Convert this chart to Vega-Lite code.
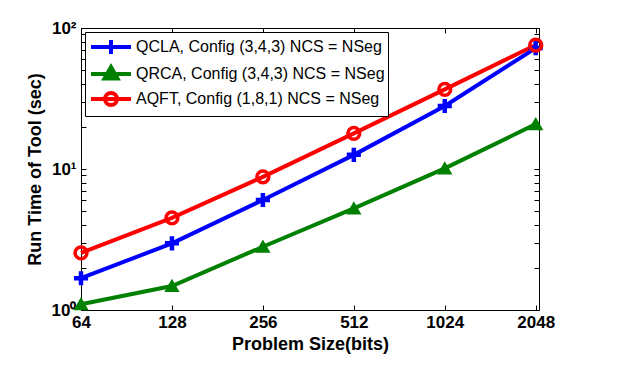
{
  "$schema": "https://vega.github.io/schema/vega-lite/v6.json",
  "width": 458,
  "height": 282,
  "autosize": {"type": "none"},
  "padding": {"left": 81, "top": 28, "right": 81, "bottom": 60},
  "background": "white",
  "data": {
    "values": [
      {"size": 64, "time": 1.68, "series": "QCLA, Config (3,4,3) NCS = NSeg"},
      {"size": 128, "time": 2.97, "series": "QCLA, Config (3,4,3) NCS = NSeg"},
      {"size": 256, "time": 6.03, "series": "QCLA, Config (3,4,3) NCS = NSeg"},
      {"size": 512, "time": 12.6, "series": "QCLA, Config (3,4,3) NCS = NSeg"},
      {"size": 1024, "time": 28.0, "series": "QCLA, Config (3,4,3) NCS = NSeg"},
      {"size": 2048, "time": 72.0, "series": "QCLA, Config (3,4,3) NCS = NSeg"},
      {"size": 64, "time": 1.1, "series": "QRCA, Config (3,4,3) NCS = NSeg"},
      {"size": 128, "time": 1.48, "series": "QRCA, Config (3,4,3) NCS = NSeg"},
      {"size": 256, "time": 2.81, "series": "QRCA, Config (3,4,3) NCS = NSeg"},
      {"size": 512, "time": 5.26, "series": "QRCA, Config (3,4,3) NCS = NSeg"},
      {"size": 1024, "time": 10.1, "series": "QRCA, Config (3,4,3) NCS = NSeg"},
      {"size": 2048, "time": 20.8, "series": "QRCA, Config (3,4,3) NCS = NSeg"},
      {"size": 64, "time": 2.54, "series": "AQFT, Config (1,8,1) NCS = NSeg"},
      {"size": 128, "time": 4.5, "series": "AQFT, Config (1,8,1) NCS = NSeg"},
      {"size": 256, "time": 8.8, "series": "AQFT, Config (1,8,1) NCS = NSeg"},
      {"size": 512, "time": 17.9, "series": "AQFT, Config (1,8,1) NCS = NSeg"},
      {"size": 1024, "time": 36.7, "series": "AQFT, Config (1,8,1) NCS = NSeg"},
      {"size": 2048, "time": 75.7, "series": "AQFT, Config (1,8,1) NCS = NSeg"}
    ]
  },
  "layer": [
    {
      "mark": {"type": "line", "strokeWidth": 4, "clip": false},
      "encoding": {
        "x": {
          "field": "size", "type": "quantitative",
          "scale": {"type": "log", "base": 2, "domain": [64, 2100], "nice": false, "zero": false},
          "axis": {
            "orient": "bottom",
            "values": [64, 128, 256, 512, 1024, 2048],
            "format": "d",
            "title": "Problem Size(bits)",
            "tickSize": -5,
            "labelPadding": 9,
            "titlePadding": 5,
            "labelOverlap": false,
            "labelFlush": false
          }
        },
        "y": {
          "field": "time", "type": "quantitative",
          "scale": {"type": "log", "domain": [1, 100], "nice": false, "zero": false},
          "axis": {
            "orient": "left",
            "values": [1, 2, 3, 4, 5, 6, 7, 8, 9, 10, 20, 30, 40, 50, 60, 70, 80, 90, 100],
            "labelExpr": "datum.value == 1 ? '10⁰' : datum.value == 10 ? '10¹' : datum.value == 100 ? '10²' : ''",
            "title": "Run Time of Tool (sec)",
            "tickSize": -5,
            "labelPadding": 10,
            "titlePadding": 7,
            "labelOverlap": false,
            "labelFlush": false
          }
        },
        "color": {
          "field": "series", "type": "nominal",
          "scale": {
            "domain": ["QCLA, Config (3,4,3) NCS = NSeg", "QRCA, Config (3,4,3) NCS = NSeg", "AQFT, Config (1,8,1) NCS = NSeg"],
            "range": ["#0000ff", "#008000", "#ff0000"]
          },
          "legend": {
            "orient": "top-left",
            "offset": 4,
            "title": null,
            "fillColor": "white",
            "strokeColor": "black",
            "padding": 3,
            "cornerRadius": 0,
            "labelFont": "Liberation Sans",
            "labelFontSize": 16,
            "labelFontWeight": "normal",
            "labelColor": "black",
            "labelLimit": 400,
            "labelOffset": 13,
            "symbolSize": 400,
            "symbolOffset": 11,
            "symbolStrokeWidth": 4,
            "rowPadding": -8,
            "encode": {
              "symbols": {
                "update": {
                  "shape": {"signal": "datum.value == 'QCLA, Config (3,4,3) NCS = NSeg' ? 'M-2,0H2M0,-0.7V0.7M-0.7,0H0.7' : datum.value == 'QRCA, Config (3,4,3) NCS = NSeg' ? 'M-2,0H2M0,-0.7L0.65,0.45L-0.65,0.45Z' : 'M-2,0H2M0.6,0C0.6,0.331 0.331,0.6 0,0.6C-0.331,0.6 -0.6,0.331 -0.6,0C-0.6,-0.331 -0.331,-0.6 0,-0.6C0.331,-0.6 0.6,-0.331 0.6,0Z'"},
                  "fill": {"signal": "datum.value == 'QRCA, Config (3,4,3) NCS = NSeg' ? '#008000' : 'transparent'"},
                  "strokeWidth": {"value": 4}
                }
              }
            }
          }
        }
      }
    },
    {
      "transform": [{"filter": "datum.series == 'QCLA, Config (3,4,3) NCS = NSeg'"}],
      "mark": {"type": "point", "shape": "M-1,0H1M0,-1V1", "size": 200, "strokeWidth": 4.5, "filled": false, "color": "#0000ff", "opacity": 1, "clip": false},
      "encoding": {
        "x": {
          "field": "size", "type": "quantitative",
          "scale": {"type": "log", "base": 2, "domain": [64, 2100], "nice": false, "zero": false},
          "axis": {
            "orient": "top",
            "values": [64, 128, 256, 512, 1024, 2048],
            "labels": false,
            "title": null,
            "tickSize": -5
          }
        },
        "y": {
          "field": "time", "type": "quantitative",
          "scale": {"type": "log", "domain": [1, 100], "nice": false, "zero": false},
          "axis": {
            "orient": "right",
            "values": [1, 2, 3, 4, 5, 6, 7, 8, 9, 10, 20, 30, 40, 50, 60, 70, 80, 90, 100],
            "labels": false,
            "title": null,
            "tickSize": -5
          }
        }
      }
    },
    {
      "transform": [{"filter": "datum.series == 'QRCA, Config (3,4,3) NCS = NSeg'"}],
      "mark": {"type": "point", "shape": "triangle-up", "size": 140, "strokeWidth": 2, "filled": true, "color": "#008000", "stroke": "#008000", "opacity": 1, "clip": false},
      "encoding": {
        "x": {"field": "size", "type": "quantitative", "axis": null},
        "y": {"field": "time", "type": "quantitative", "axis": null}
      }
    },
    {
      "transform": [{"filter": "datum.series == 'AQFT, Config (1,8,1) NCS = NSeg'"}],
      "mark": {"type": "point", "shape": "circle", "size": 140, "strokeWidth": 3.5, "filled": false, "color": "#ff0000", "opacity": 1, "clip": false},
      "encoding": {
        "x": {"field": "size", "type": "quantitative", "axis": null},
        "y": {"field": "time", "type": "quantitative", "axis": null}
      }
    }
  ],
  "resolve": {"axis": {"x": "independent", "y": "independent"}},
  "config": {
    "view": {"stroke": "black", "strokeWidth": 1},
    "axis": {
      "grid": false,
      "domainColor": "black",
      "domainWidth": 1,
      "tickColor": "black",
      "tickWidth": 1,
      "labelColor": "black",
      "labelFont": "Liberation Sans",
      "labelFontSize": 17,
      "labelFontWeight": "bold",
      "titleColor": "black",
      "titleFont": "Liberation Sans",
      "titleFontSize": 18,
      "titleFontWeight": "bold"
    }
  }
}
